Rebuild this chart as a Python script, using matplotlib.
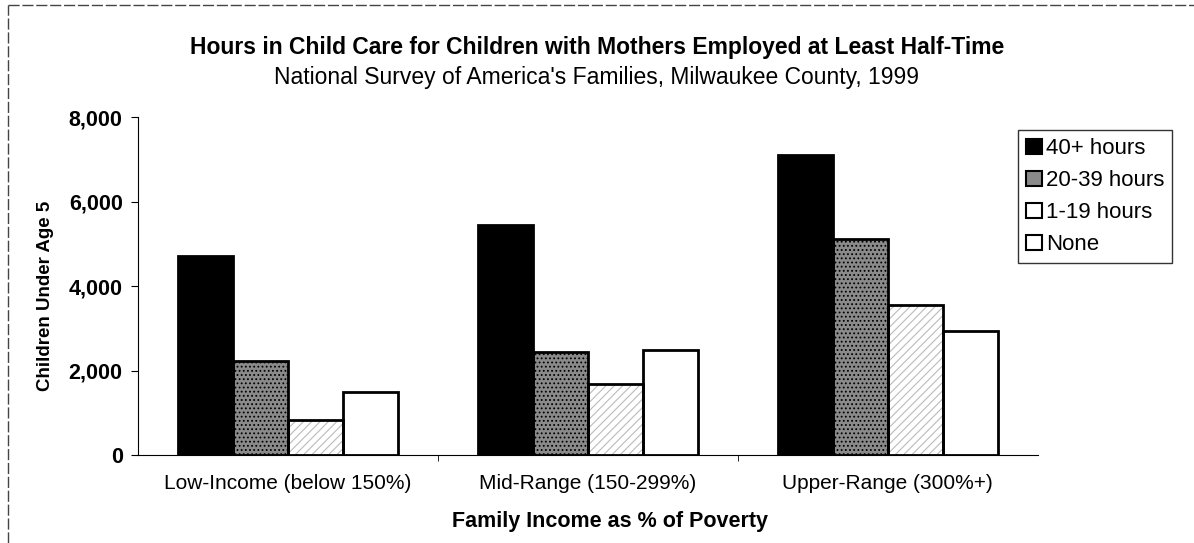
import matplotlib.pyplot as plt
import numpy as np
from matplotlib.lines import Line2D
from matplotlib.patches import Patch
from matplotlib.ticker import FuncFormatter

plt.rcParams['font.family'] = ['Liberation Sans', 'DejaVu Sans']
plt.rcParams['hatch.linewidth'] = 0.8

# Data
categories = ['Low-Income (below 150%)', 'Mid-Range (150-299%)', 'Upper-Range (300%+)']
series_names = ['40+ hours', '20-39 hours', '1-19 hours', 'None']
hours_40_plus = [4700, 5450, 7100]
hours_20_39 = [2230, 2450, 5120]
hours_1_19 = [830, 1670, 3560]
hours_none = [1500, 2490, 2930]
y_ticks = [0, 2000, 4000, 6000, 8000]

series_values = [hours_40_plus, hours_20_39, hours_1_19, hours_none]
faces = ['#000000', '#8a8a8a', '#ffffff', '#ffffff']
hatches = [None, '....', '////', None]
hatch_cols = ['black', 'black', '#bbbbbb', 'black']

fig = plt.figure(figsize=(11.94, 5.43), dpi=100)
ax = fig.add_axes([0.1156, 0.162, 0.7535, 0.6225])

x = np.arange(len(categories))
width = 0.183
handles = []
for i, vals in enumerate(series_values):
    pos = x + (i - 1.5) * width
    # fill + pattern, then the black outline on top
    ax.bar(pos, vals, width, color=faces[i], edgecolor=hatch_cols[i],
           linewidth=0, hatch=hatches[i], zorder=2)
    ax.bar(pos, vals, width, fill=False, edgecolor='black', linewidth=2, zorder=3)
    handles.append(Patch(facecolor=faces[i], edgecolor='black', linewidth=1.5,
                         label=series_names[i]))

ax.set_xlim(-0.5, 2.5)
ax.set_ylim(0, 8000)
ax.set_yticks(y_ticks)
ax.yaxis.set_major_formatter(FuncFormatter(lambda v, p: f'{int(v):,}'))
ax.set_xticks(x)
ax.set_xticklabels(categories, fontsize=15)
ax.set_xticks([0.5, 1.5], minor=True)
ax.tick_params(axis='x', which='major', length=0, pad=14)
ax.tick_params(axis='x', which='minor', length=4, direction='out')
ax.tick_params(axis='y', length=5, direction='out', labelsize=15.5, pad=6)
for lab in ax.get_yticklabels():
    lab.set_fontweight('bold')

for s in ['top', 'right']:
    ax.spines[s].set_visible(False)
ax.spines['left'].set_linewidth(0.8)
ax.spines['bottom'].set_linewidth(0.8)

ax.set_ylabel('Children Under Age 5', fontsize=13.5, fontweight='bold')
ax.yaxis.set_label_coords(-0.093, 0.47)
ax.set_xlabel('Family Income as % of Poverty', fontsize=15.5, fontweight='bold')
ax.xaxis.set_label_coords(0.525, -0.165)

fig.text(0.5, 0.912, 'Hours in Child Care for Children with Mothers Employed at Least Half-Time',
         ha='center', va='center', fontsize=16.5, fontweight='bold')
fig.text(0.5, 0.858, "National Survey of America's Families, Milwaukee County, 1999",
         ha='center', va='center', fontsize=16.5)

leg = fig.legend(handles=handles, loc='upper left', bbox_to_anchor=(0.853, 0.76),
                 fontsize=16, frameon=True, fancybox=False, handlelength=0.7,
                 handleheight=0.7, handletextpad=0.2, labelspacing=0.5,
                 borderpad=0.35, borderaxespad=0)
leg.get_frame().set_edgecolor('black')
leg.get_frame().set_linewidth(1)

# scanned page border (left and top)
fig.add_artist(Line2D([0.007, 0.007], [0.0, 0.99], transform=fig.transFigure,
                      color='#444444', linewidth=1, linestyle=(0, (8, 2))))
fig.add_artist(Line2D([0.007, 1.0], [0.99, 0.99], transform=fig.transFigure,
                      color='#444444', linewidth=1, linestyle=(0, (8, 2))))

fig.savefig('out.png', dpi=100)
